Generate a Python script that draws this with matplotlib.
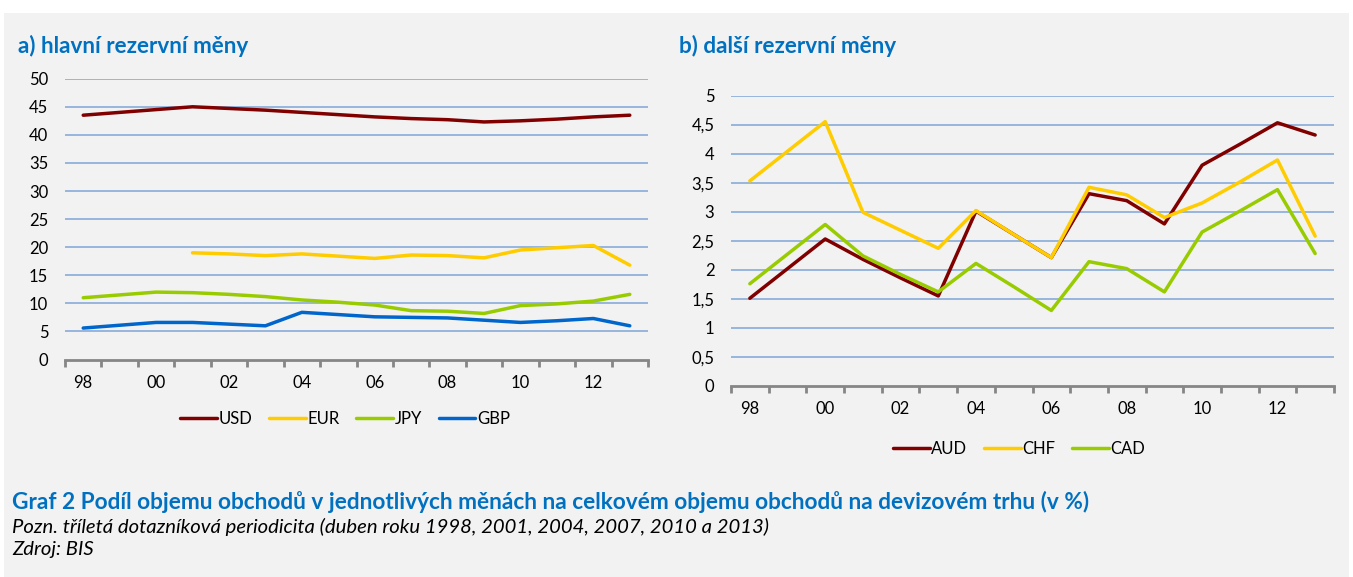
import matplotlib
matplotlib.use("Agg")
import matplotlib.pyplot as plt
from matplotlib.patches import Rectangle
from matplotlib.ticker import FixedLocator, FuncFormatter

plt.rcParams['font.family'] = ['Lato', 'DejaVu Sans']

W, H = 1353, 577

years = list(range(1998, 2014))
year_labels = ["98", "00", "02", "04", "06", "08", "10", "12"]

# a) hlavní rezervní měny (%)
usd = [43.5, 44.0, 44.5, 45.0, 44.7, 44.4, 44.0, 43.6, 43.2, 42.9, 42.7, 42.3, 42.5, 42.8, 43.2, 43.5]
eur = [None, None, None, 19.0, 18.8, 18.5, 18.8, 18.4, 18.0, 18.6, 18.5, 18.1, 19.5, 19.9, 20.3, 16.8]
jpy = [11.0, 11.5, 12.0, 11.9, 11.6, 11.2, 10.6, 10.2, 9.7, 8.7, 8.6, 8.2, 9.6, 9.9, 10.4, 11.6]
gbp = [5.6, 6.1, 6.6, 6.6, 6.3, 6.0, 8.4, 8.0, 7.6, 7.5, 7.4, 7.0, 6.6, 6.9, 7.3, 6.0]

# b) další rezervní měny (%)
aud = [1.51, 2.02, 2.53, 2.18, 1.86, 1.55, 3.01, 2.61, 2.21, 3.31, 3.19, 2.79, 3.80, 4.16, 4.53, 4.32]
chf = [3.53, 4.04, 4.55, 2.99, 2.68, 2.37, 3.02, 2.61, 2.21, 3.42, 3.29, 2.90, 3.15, 3.51, 3.89, 2.58]
cad = [1.76, 2.27, 2.78, 2.24, 1.92, 1.62, 2.11, 1.71, 1.30, 2.14, 2.02, 1.62, 2.65, 3.01, 3.38, 2.28]

DARK_RED = "#800000"
GOLD = "#FFCC00"
GREEN = "#99CC00"
BLUE = "#0066CC"
TITLE_BLUE = "#0070C0"
GRID = "#7FA6D6"
AXIS = "#868686"


def px_axes(fig, x0, x1, ytop, ybot):
    # axes placed by pixel bounds (top-left origin)
    return fig.add_axes([x0 / W, 1 - ybot / H, (x1 - x0) / W, (ybot - ytop) / H])


def style_axes(ax, ymax, ystep, fmt):
    n = len(years)
    ax.set_xlim(-0.5, n - 0.5)
    ax.set_ylim(0, ymax)
    ax.set_facecolor("none")
    for side in ("top", "right", "left"):
        ax.spines[side].set_visible(False)
    ax.spines["bottom"].set_color(AXIS)
    ax.spines["bottom"].set_linewidth(2)
    ax.spines["bottom"].set_zorder(5)

    yt = [i * ystep for i in range(int(round(ymax / ystep)) + 1)]
    ax.set_yticks(yt)
    ax.yaxis.set_major_formatter(FuncFormatter(fmt))
    ax.tick_params(axis="y", length=0, pad=12, labelsize=12, colors="black")
    for v in yt[1:]:
        ax.axhline(v, color=GRID, lw=1.1, zorder=1)

    ax.set_xticks(list(range(0, n, 2))[:len(year_labels)])
    ax.set_xticklabels(year_labels)
    ax.tick_params(axis="x", which="major", length=0, pad=11, labelsize=12)
    ax.xaxis.set_minor_locator(FixedLocator([i - 0.5 for i in range(n + 1)]))
    ax.tick_params(axis="x", which="minor", length=5, width=2, color=AXIS, direction="out")


def plot_series(ax, series, labels, colors):
    x = list(range(len(years)))
    handles = []
    for vals, lab, col in zip(series, labels, colors):
        pts = [(i, v) for i, v in zip(x, vals) if v is not None]
        xs, ys = zip(*pts)
        h, = ax.plot(xs, ys, color=col, lw=2.5, label=lab, zorder=3,
                     solid_capstyle="round", solid_joinstyle="round")
        handles.append(h)
    return handles


fig = plt.figure(figsize=(W / 100, H / 100), dpi=100, facecolor="white")
# light grey panel behind everything
fig.patches.append(Rectangle((4 / W, 0), (1349 - 4) / W, (H - 13) / H,
                             transform=fig.transFigure, facecolor="#F2F2F2",
                             edgecolor="none", zorder=-10))

# left panel
ax1 = px_axes(fig, 65, 648, 78.7, 359.5)
style_axes(ax1, 50, 5, lambda v, p: f"{v:.0f}")
h1 = plot_series(ax1, [usd, eur, jpy, gbp], ["USD", "EUR", "JPY", "GBP"],
                 [DARK_RED, GOLD, GREEN, BLUE])

# right panel
ax2 = px_axes(fig, 731, 1334, 95.5, 386)
style_axes(ax2, 5, 0.5, lambda v, p: (f"{v:g}").replace(".", ","))
h2 = plot_series(ax2, [aud, chf, cad], ["AUD", "CHF", "CAD"],
                 [DARK_RED, GOLD, GREEN])

leg_kw = dict(frameon=False, fontsize=12, handlelength=2.2, handletextpad=0.1,
              columnspacing=1.0, borderaxespad=0, borderpad=0)
fig.legend(handles=h1, ncol=4, loc="center", bbox_to_anchor=(345 / W, 1 - 419 / H), **leg_kw)
fig.legend(handles=h2, ncol=3, loc="center", bbox_to_anchor=(1019 / W, 1 - 449 / H), **leg_kw)

fig.text(18 / W, 1 - 46 / H, "a) hlavní rezervní měny", fontsize=16.2, fontweight="bold",
         color=TITLE_BLUE, va="center", ha="left")
fig.text(679 / W, 1 - 46 / H, "b) další rezervní měny", fontsize=16.2, fontweight="bold",
         color=TITLE_BLUE, va="center", ha="left")

fig.text(12 / W, 1 - 502 / H,
         "Graf 2 Podíl objemu obchodů v jednotlivých měnách na celkovém objemu obchodů na devizovém trhu (v %)",
         fontsize=16.3, fontweight="bold", color=TITLE_BLUE, va="center", ha="left")
fig.text(12 / W, 1 - 527 / H,
         "Pozn. tříletá dotazníková periodicita (duben roku 1998, 2001, 2004, 2007, 2010 a 2013)",
         fontsize=14.6, fontstyle="italic", color="black", va="center", ha="left")
fig.text(12 / W, 1 - 550 / H, "Zdroj: BIS", fontsize=14.6, fontstyle="italic",
         color="black", va="center", ha="left")

fig.savefig("out.png", dpi=100, facecolor=fig.get_facecolor())
